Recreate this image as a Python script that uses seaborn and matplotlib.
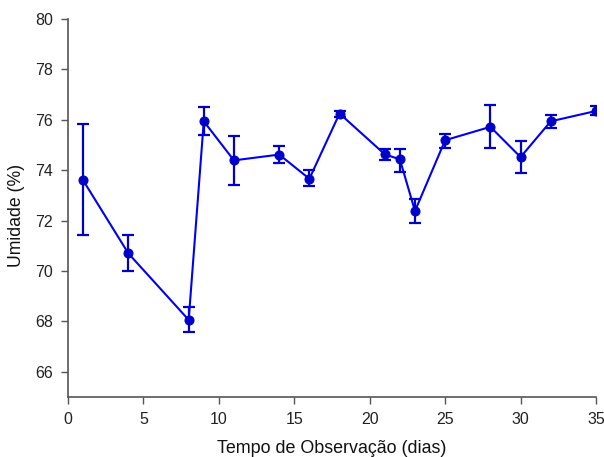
import matplotlib
matplotlib.use("Agg")
import matplotlib.pyplot as plt
import seaborn as sns
import numpy as np
import pandas as pd

dias = [1, 4, 8, 9, 11, 14, 16, 18, 21, 22, 23, 25, 28, 30, 32, 35]
umidade = [73.6, 70.7, 68.06, 75.94, 74.39, 74.62, 73.66, 76.25, 74.63, 74.43, 72.38, 75.19, 75.72, 74.52, 75.94, 76.35]
erro_inf = [71.41, 69.99, 67.59, 75.39, 73.42, 74.27, 73.36, 76.13, 74.42, 73.93, 71.90, 74.88, 74.88, 73.90, 75.66, 76.18]
erro_sup = [75.82, 71.44, 68.56, 76.49, 75.35, 74.96, 73.99, 76.35, 74.86, 74.86, 72.85, 75.45, 76.58, 75.16, 76.19, 76.54]

sns.set_style("ticks")
plt.rcParams["font.family"] = ["Liberation Sans", "DejaVu Sans"]

df = pd.DataFrame({"dias": dias, "umidade": umidade})
y = np.array(umidade)
yerr = np.vstack([y - np.array(erro_inf), np.array(erro_sup) - y])

fig = plt.figure(figsize=(6.04, 4.57), dpi=100)
ax = fig.add_axes([68/604, 60/457, (596-68)/604, (397-19)/457])

line_color = "#0000F5"
mark_color = "#0000C8"
ax.errorbar(dias, umidade, yerr=yerr, fmt="none", ecolor=mark_color, elinewidth=1.6,
            capsize=4.0, capthick=1.6, zorder=2)
sns.lineplot(data=df, x="dias", y="umidade", ax=ax, color=line_color, linewidth=1.5,
             marker="o", markersize=6.5, markeredgecolor=mark_color, markerfacecolor=mark_color,
             zorder=3)

ax.set_xlim(0, 35)
ax.set_ylim(65, 80)
ax.set_xticks([0, 5, 10, 15, 20, 25, 30, 35])
ax.set_yticks([66, 68, 70, 72, 74, 76, 78, 80])
for s in ["top", "right"]:
    ax.spines[s].set_visible(False)
for s in ["left", "bottom"]:
    ax.spines[s].set_color("#555555")
    ax.spines[s].set_linewidth(1.2)
ax.tick_params(axis="both", colors="#555555", labelcolor="#222222", labelsize=11.5,
               length=5, width=1.0, direction="out", pad=6)
ax.set_xlabel("Tempo de Observação (dias)", fontsize=12.9, color="#111111", labelpad=9)
ax.set_ylabel("Umidade (%)", fontsize=12.7, color="#111111", labelpad=7)
ax.yaxis.label.set_y(0.48)

fig.savefig("out.png", dpi=100)
